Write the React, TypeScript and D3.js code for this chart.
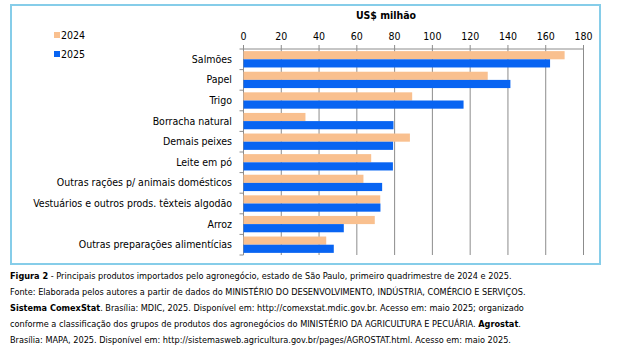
import React, { useEffect, useRef } from "react";
import * as d3 from "d3";

const categories = [
  "Salmões",
  "Papel",
  "Trigo",
  "Borracha natural",
  "Demais peixes",
  "Leite em pó",
  "Outras rações p/ animais domésticos",
  "Vestuários e outros prods. têxteis algodão",
  "Arroz",
  "Outras preparações alimentícias",
];
const values2024 = [170, 129.3, 89.3, 32.8, 88.1, 67.6, 63.5, 72.4, 69.5, 43.8];
const values2025 = [162.3, 141.3, 116.5, 79.4, 79.2, 79.1, 73.4, 72.5, 53.1, 47.8];
const seriesNames = ["2024", "2025"];
const xTicks = [0, 20, 40, 60, 80, 100, 120, 140, 160, 180];

const colors = ["#f9c08f", "#0864f2"];
const FONT = "'DejaVu Sans Condensed', sans-serif";

// caption lines as [text, bold] pieces
const caption: [string, boolean][][] = [
  [["Figura 2", true], [" - Principais produtos importados pelo agronegócio, estado de São Paulo, primeiro quadrimestre de 2024 e 2025.", false]],
  [["Fonte: Elaborada pelos autores a partir de dados do MINISTÉRIO DO DESENVOLVIMENTO, INDÚSTRIA, COMÉRCIO E SERVIÇOS.", false]],
  [["Sistema ComexStat", true], [". Brasília: MDIC, 2025. Disponível em: http://comexstat.mdic.gov.br. Acesso em: maio 2025; organizado", false]],
  [["conforme a classificação dos grupos de produtos dos agronegócios do MINISTÉRIO DA AGRICULTURA E PECUÁRIA. ", false], ["Agrostat", true], [".", false]],
  [["Brasília: MAPA, 2025. Disponível em: http://sistemasweb.agricultura.gov.br/pages/AGROSTAT.html. Acesso em: maio 2025.", false]],
];

const App = () => {
  const ref = useRef<SVGSVGElement>(null);

  useEffect(() => {
    document.body.style.margin = "0";
    const svg = d3.select(ref.current);
    svg.selectAll("*").remove();

    // frame
    svg.append("rect")
      .attr("x", 11).attr("y", 5).attr("width", 589).attr("height", 259)
      .attr("fill", "#fff").attr("stroke", "#86cde9").attr("stroke-width", 2);

    const x = d3.scaleLinear().domain([0, 180]).range([243.5, 583.5]);
    const y = d3.scaleBand().domain(categories).range([49, 255]);
    const inner = d3.scaleBand().domain(seriesNames).range([0, y.bandwidth()]).paddingInner(0).paddingOuter(0.26);

    // gridlines + top ticks
    svg.append("g").selectAll("line").data(xTicks).enter().append("line")
      .attr("x1", d => x(d)).attr("x2", d => x(d))
      .attr("y1", 45).attr("y2", 255)
      .attr("stroke", "#8c8c8c").attr("stroke-width", 1);
    svg.append("line")
      .attr("x1", x(0)).attr("x2", x(180)).attr("y1", 49).attr("y2", 49)
      .attr("stroke", "#8c8c8c");

    svg.append("g").selectAll("text").data(xTicks).enter().append("text")
      .attr("x", d => x(d)).attr("y", 40)
      .attr("text-anchor", "middle").attr("font-family", FONT).attr("font-size", 10.5)
      .attr("fill", "#000").text(d => d);

    svg.append("text")
      .attr("x", 386).attr("y", 19).attr("text-anchor", "middle")
      .attr("font-family", FONT).attr("font-size", 10.5).attr("font-weight", "bold")
      .text("US$ milhão");

    // left axis with category ticks
    svg.append("line").attr("x1", x(0)).attr("x2", x(0)).attr("y1", 49).attr("y2", 255)
      .attr("stroke", "#8c8c8c");
    svg.append("g").selectAll("line").data(d3.range(categories.length + 1)).enter().append("line")
      .attr("x1", x(0) - 4).attr("x2", x(0))
      .attr("y1", i => 49 + i * y.step()).attr("y2", i => 49 + i * y.step())
      .attr("stroke", "#8c8c8c");

    // bars
    const series = [values2024, values2025];
    series.forEach((vals, si) => {
      svg.append("g").selectAll("rect").data(vals).enter().append("rect")
        .attr("x", x(0))
        .attr("y", (d, i) => (y(categories[i]) as number) + (inner(seriesNames[si]) as number))
        .attr("width", d => x(d) - x(0))
        .attr("height", inner.bandwidth())
        .attr("fill", colors[si]);
    });

    // category labels
    svg.append("g").selectAll("text").data(categories).enter().append("text")
      .attr("x", 232).attr("y", d => (y(d) as number) + y.bandwidth() / 2 + 3.5)
      .attr("text-anchor", "end").attr("font-family", FONT).attr("font-size", 10.5)
      .text(d => d);

    // legend
    seriesNames.forEach((s, i) => {
      svg.append("rect").attr("x", 54).attr("y", 32 + i * 19).attr("width", 6).attr("height", 6)
        .attr("fill", colors[i]);
      svg.append("text").attr("x", 61).attr("y", 39 + i * 19)
        .attr("font-family", FONT).attr("font-size", 10.5).text(s);
    });

    // caption
    caption.forEach((parts, li) => {
      const t = svg.append("text").attr("x", 10).attr("y", 279 + li * 16)
        .attr("font-family", FONT).attr("font-size", 9.1);
      parts.forEach(([str, bold]) => {
        t.append("tspan").attr("font-weight", bold ? "bold" : "normal").text(str);
      });
    });
  }, []);

  return <svg ref={ref} width={618} height={363} style={{ display: "block", background: "#fff" }} />;
};

export default App;
